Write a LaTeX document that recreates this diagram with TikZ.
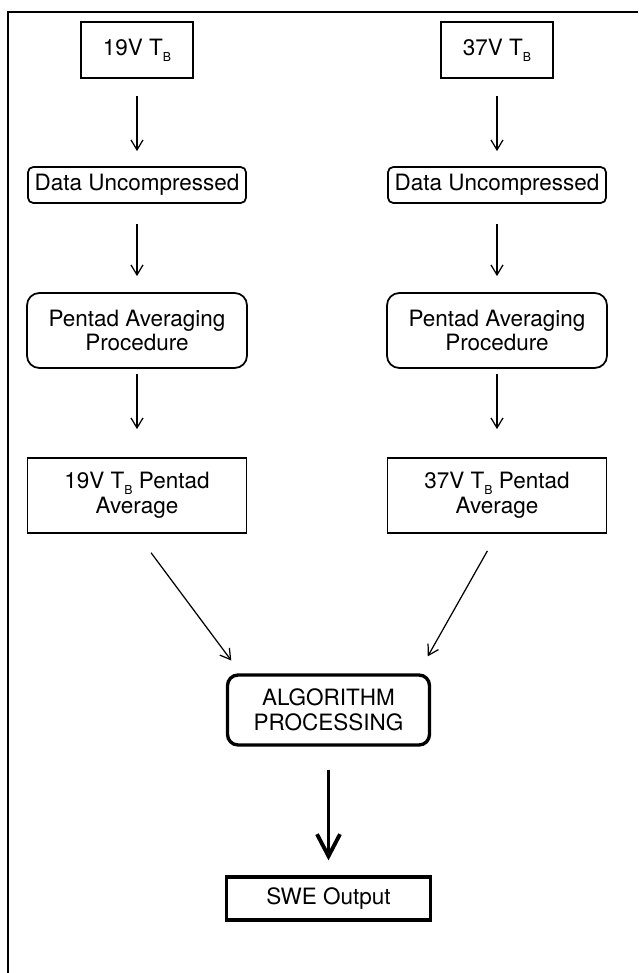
\documentclass[tikz,border=0pt]{standalone}
\usepackage{fontspec}
\setmainfont{TeX Gyre Heros}
\usepackage{tikz}
\usetikzlibrary{arrows.meta}
\newcommand{\TB}{T\raisebox{-0.5ex}{\fontsize{7}{7}\selectfont B}}

\begin{document}
\begin{tikzpicture}[
    font=\fontsize{12.8}{14}\selectfont,
    inbox/.style={rectangle, draw, line width=1pt,
        minimum width=2.24cm, minimum height=1.12cm},
    stepbox/.style={rectangle, draw, line width=1pt, rounded corners=3pt,
        minimum width=4.36cm, minimum height=0.72cm, inner sep=2pt},
    procbox/.style={rectangle, draw, line width=1pt, rounded corners=7pt,
        minimum width=4.4cm, minimum height=1.5cm, align=center},
    avgbox/.style={rectangle, draw, line width=1pt,
        minimum width=4.38cm, minimum height=1.5cm, align=center},
    algbox/.style={rectangle, draw, line width=1.9pt, rounded corners=6pt,
        minimum width=4.04cm, minimum height=1.4cm, align=center},
    outbox/.style={rectangle, draw, line width=1.9pt,
        minimum width=4.08cm, minimum height=0.86cm},
    arr/.style={-{Straight Barb[length=2mm, width=2.4mm]}, line width=0.7pt,
        shorten <=0.34cm, shorten >=0.3cm},
    bigarr/.style={-{Straight Barb[length=4.4mm, width=4.6mm]}, line width=2.2pt,
        shorten <=0.46cm, shorten >=0.3cm}
]
    \useasboundingbox (0,0) rectangle (12.76,-19.46);

    % frame (top and left side only)
    \draw[line width=1pt] (12.76,-0.24) -- (0.16,-0.24) -- (0.16,-19.46);

    % 19V column
    \node[inbox] (t19) at (2.74,-1.0) {19V \TB};
    \node[stepbox] (u19) at (2.74,-3.7) {Data Uncompressed};
    \node[procbox] (pa19) at (2.74,-6.61) {Pentad Averaging\\Procedure};
    \node[avgbox] (avg19) at (2.74,-9.91) {19V \TB{} Pentad\\Average};
    \draw[arr] (t19) -- (u19);
    \draw[arr, shorten <=0.4cm, shorten >=0.32cm] (u19) -- (pa19);
    \draw[arr, shorten <=0.1cm, shorten >=0.56cm] (pa19) -- (avg19);

    % 37V column
    \node[inbox] (t37) at (9.94,-1.0) {37V \TB};
    \node[stepbox] (u37) at (9.94,-3.7) {Data Uncompressed};
    \node[procbox] (pa37) at (9.94,-6.61) {Pentad Averaging\\Procedure};
    \node[avgbox] (avg37) at (9.94,-9.91) {37V \TB{} Pentad\\Average};
    \draw[arr] (t37) -- (u37);
    \draw[arr, shorten <=0.4cm, shorten >=0.32cm] (u37) -- (pa37);
    \draw[arr, shorten <=0.1cm, shorten >=0.56cm] (pa37) -- (avg37);

    % merge and output
    \node[algbox] (alg) at (6.57,-14.2) {ALGORITHM\\PROCESSING};
    \node[outbox] (swe) at (6.57,-17.97) {SWE Output};
    \draw[arr, shorten <=0.47cm, shorten >=0.32cm]
        (avg19.south) -- ([xshift=0.3cm]alg.north west);
    \draw[arr, shorten <=0.39cm, shorten >=0.39cm]
        (avg37.south) -- ([xshift=-0.26cm]alg.north east);
    \draw[bigarr] (alg) -- (swe);
\end{tikzpicture}
\end{document}
